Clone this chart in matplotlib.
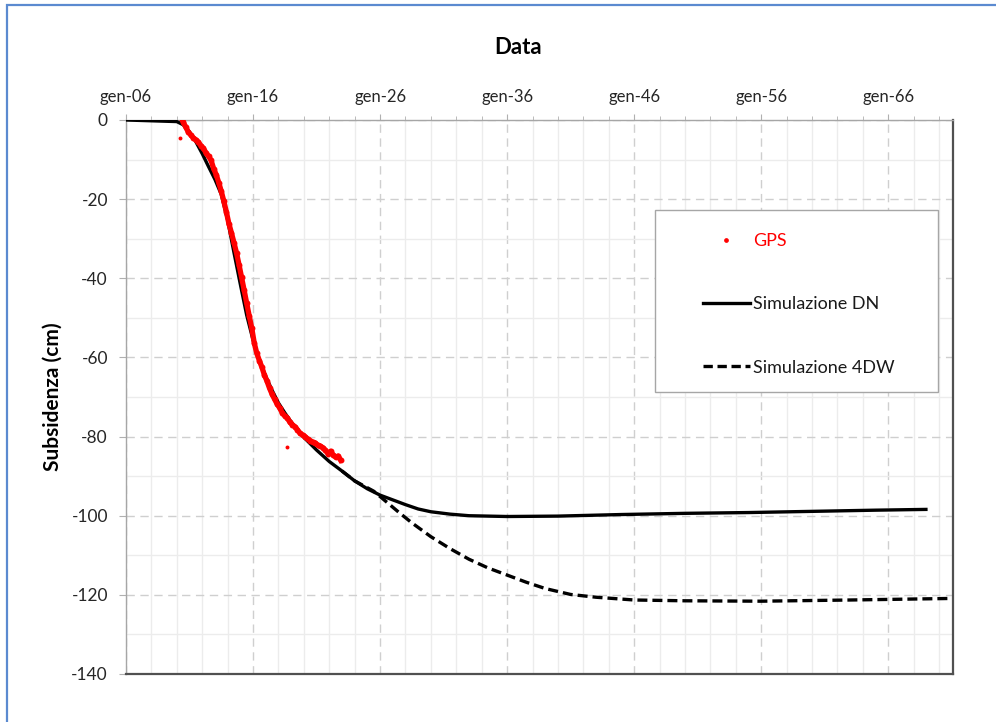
import matplotlib
matplotlib.use('Agg')
import matplotlib.pyplot as plt
from matplotlib.patches import Rectangle
from matplotlib.lines import Line2D
from matplotlib.ticker import FixedLocator, MultipleLocator

plt.rcParams['font.family'] = ['Lato', 'DejaVu Sans']

# ---------------- data (decimal years, cm) ----------------
x_tick_years = [2006, 2016, 2026, 2036, 2046, 2056, 2066]
x_tick_labels = ['gen-06', 'gen-16', 'gen-26', 'gen-36', 'gen-46', 'gen-56', 'gen-66']
y_ticks = [0, -20, -40, -60, -80, -100, -120, -140]

gps_years = [2010.40, 2010.50, 2010.70, 2010.90, 2011.10, 2011.30, 2011.50, 2011.70,
             2011.90, 2012.10, 2012.30, 2012.50, 2012.70, 2012.90, 2013.10, 2013.30,
             2013.50, 2013.70, 2013.90, 2014.10, 2014.30, 2014.50, 2014.70, 2014.90,
             2015.10, 2015.30, 2015.50, 2015.70, 2015.90, 2016.10, 2016.30, 2016.50,
             2016.70, 2016.90, 2017.10, 2017.30, 2017.50, 2017.70, 2017.90, 2018.10,
             2018.30, 2018.50, 2018.70, 2018.90, 2019.10, 2019.30, 2019.50, 2019.70,
             2019.90, 2020.10, 2020.30, 2020.50, 2020.70, 2020.90, 2021.10, 2021.30,
             2021.50, 2021.70, 2021.90, 2022.10, 2022.30, 2022.50, 2022.70, 2022.90]
gps_values = [0.3, -0.5, -1.8, -3.0, -3.8, -4.5, -5.0, -5.6,
              -6.5, -7.2, -8.3, -9.2, -10.2, -12.3, -13.8, -15.8,
              -18.0, -20.5, -23.2, -26.2, -28.5, -31.0, -33.6, -36.6,
              -39.8, -43.0, -46.3, -49.5, -52.6, -56.4, -59.0, -60.8,
              -62.5, -64.5, -66.0, -67.8, -69.3, -70.6, -71.8, -72.8,
              -74.0, -74.8, -75.3, -76.4, -77.0, -77.5, -78.3, -79.2,
              -79.6, -80.0, -80.6, -81.0, -81.4, -81.6, -82.2, -82.4,
              -82.8, -83.5, -84.3, -83.7, -84.6, -85.2, -84.9, -86.0]
gps_outlier_years = [2010.25, 2018.65]
gps_outlier_values = [-4.6, -82.6]

dn_years = [2006.0, 2008.0, 2010.0, 2010.5, 2011.0, 2011.5, 2012.0, 2012.5, 2013.0,
            2013.5, 2014.0, 2014.5, 2015.0, 2015.5, 2016.0, 2016.5, 2017.0, 2017.5,
            2018.0, 2018.5, 2019.0, 2020.0, 2021.0, 2022.0, 2023.0, 2024.0, 2025.0,
            2026.0, 2027.0, 2028.0, 2029.0, 2030.0, 2031.5, 2033.0, 2036.0, 2040.0,
            2045.0, 2050.0, 2055.0, 2060.0, 2065.0, 2069.1]
dn_values = [0.0, -0.2, -0.4, -1.2, -3.0, -5.5, -8.5, -11.8, -15.0,
             -18.8, -25.3, -33.5, -41.5, -49.3, -55.6, -60.8, -64.8, -68.3,
             -71.5, -74.0, -76.3, -80.2, -83.4, -86.3, -88.7, -91.2, -93.2,
             -94.8, -96.0, -97.2, -98.3, -99.0, -99.6, -100.0, -100.2, -100.1,
             -99.7, -99.4, -99.2, -98.9, -98.6, -98.4]

w4d_years = [2023.0, 2024.0, 2025.5, 2026.5, 2027.5, 2028.5, 2030.0, 2031.5, 2033.0,
             2034.5, 2036.0, 2037.5, 2039.0, 2041.0, 2043.0, 2046.0, 2050.0, 2056.0,
             2063.0, 2071.1]
w4d_values = [-88.7, -91.2, -93.8, -96.5, -99.2, -101.8, -105.3, -108.3, -111.0,
              -113.2, -115.0, -116.8, -118.4, -119.9, -120.6, -121.3, -121.5, -121.6,
              -121.3, -120.9]

# ---------------- figure ----------------
W, H = 996, 722
fig = plt.figure(figsize=(W / 100, H / 100), dpi=100)
fig.patch.set_facecolor('white')

# outer blue frame (cut off at right/bottom like the screenshot)
fig.patches.append(Rectangle((7 / W, -0.1), 1.2, 1 - 5 / H + 0.1, transform=fig.transFigure,
                             fill=False, edgecolor='#5b8ad0', linewidth=1.6, zorder=0))

ax = fig.add_axes([126 / W, 1 - 674 / H, (953 - 126) / W, (674 - 120) / H])
ax.set_xlim(2006.0, 2071.1)
ax.set_ylim(-140, 0)

# grid
ax.xaxis.set_major_locator(FixedLocator(x_tick_years))
ax.xaxis.set_minor_locator(MultipleLocator(2, offset=0))
ax.yaxis.set_major_locator(FixedLocator(y_ticks))
ax.yaxis.set_minor_locator(MultipleLocator(10))
ax.grid(which='minor', color='#ececec', linewidth=1.0, linestyle='-')
ax.grid(which='major', color='#cfcfcf', linewidth=1.0, linestyle=(0, (6, 4)))
ax.set_axisbelow(True)

ax.xaxis.tick_top()
ax.set_xticklabels(x_tick_labels)
ax.set_yticklabels([str(v) for v in y_ticks])
ax.tick_params(axis='x', which='both', top=True, bottom=False, length=4, color='#b0b0b0',
               labelsize=12, labelcolor='#262626', pad=7)
ax.tick_params(axis='x', which='minor', length=3)
ax.tick_params(axis='y', which='major', left=True, length=5, color='#b0b0b0',
               labelsize=12.5, labelcolor='#262626', pad=8)
ax.tick_params(axis='y', which='minor', left=False)

for s in ['left', 'top']:
    ax.spines[s].set_color('#a6a6a6')
    ax.spines[s].set_linewidth(1.0)
for s in ['right', 'bottom']:
    ax.spines[s].set_color('#505050')
    ax.spines[s].set_linewidth(1.6)

# series
ax.plot(dn_years, dn_values, color='black', linewidth=2.4, solid_capstyle='butt', zorder=3)
ax.plot(w4d_years, w4d_values, color='black', linewidth=2.4, linestyle=(0, (3.0, 1.5)), zorder=2)
ax.plot(gps_years, gps_values, color='#ff0000', linewidth=3.8, zorder=4)
ax.scatter(gps_years, gps_values, s=18, color='#ff0000', linewidths=0, zorder=4)
ax.scatter(gps_outlier_years, gps_outlier_values, s=8, color='#ff0000', linewidths=0, zorder=4)

# legend box
ax.add_patch(Rectangle(((655 - 126) / 827, (674 - 392) / 554), (938 - 655) / 827, (392 - 210) / 554,
                       transform=ax.transAxes, facecolor='white', edgecolor='#a6a6a6',
                       linewidth=1.0, zorder=5))
handles = [
    Line2D([], [], color='#ff0000', marker='o', markersize=2.4, linestyle='None'),
    Line2D([], [], color='black', linewidth=2.4),
    Line2D([], [], color='black', linewidth=2.4, linestyle=(0, (2.8, 1.4))),
]
leg = ax.legend(handles, ['GPS', 'Simulazione DN', 'Simulazione 4DW'],
                loc='upper left', bbox_to_anchor=((703 - 126) / 827, (674 - 233) / 554),
                frameon=False, fontsize=13, handlelength=2.6, handletextpad=0.15,
                labelspacing=2.62, borderpad=0, borderaxespad=0)
leg.set_zorder(6)
leg.get_texts()[0].set_color('#ff0000')
for t in leg.get_texts()[1:]:
    t.set_color('#1a1a1a')

# titles
fig.text(518 / W, 1 - 48 / H, 'Data', ha='center', va='center', fontsize=16,
         fontweight='bold', color='black')
fig.text(53 / W, 1 - 397 / H, 'Subsidenza (cm)', ha='center', va='center', rotation=90,
         fontsize=15, fontweight='bold', color='black')

fig.savefig('out.png', dpi=100, facecolor='white')
